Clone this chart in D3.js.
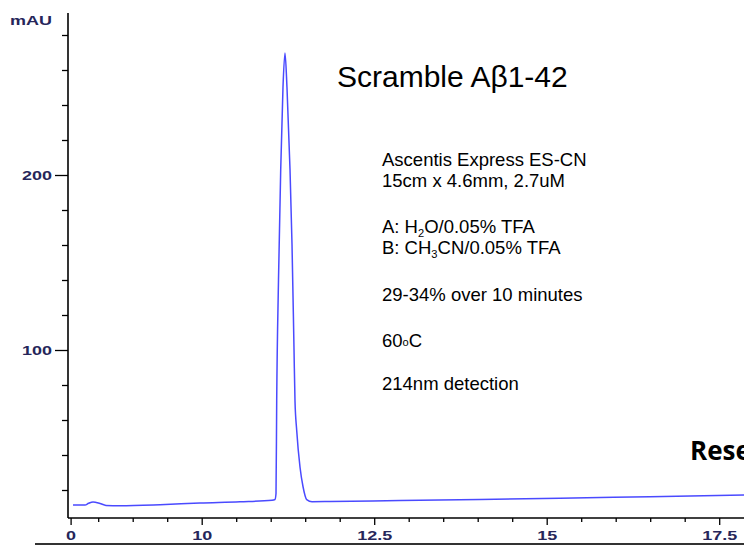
<!DOCTYPE html>
<html><head><meta charset="utf-8">
<script src="https://cdn.jsdelivr.net/npm/d3@7"></script>
<style>html,body{margin:0;padding:0;background:#fff;overflow:hidden}</style>
</head><body>
<svg id="c" width="744" height="545"></svg>
<script>
// ---- data (retention time in min, absorbance in mAU) ----
const times  = [8.135, 8.309, 8.36, 8.425, 8.526, 8.613, 8.816, 9.396, 9.975, 10.555, 11.019, 11.062, 11.077, 11.087, 11.113, 11.145, 11.178, 11.207, 11.236, 11.280, 11.309, 11.338, 11.352, 11.377, 11.425, 11.468, 11.522, 11.599, 11.859, 12.874, 14.033, 15.193, 16.497, 17.86];
const signal = [11.4, 11.4, 12.4, 13.2, 12.3, 11.2, 11.0, 11.6, 12.6, 13.3, 14.2, 14.6, 18, 71, 140, 203, 250, 269.7, 250, 203, 160, 100, 71, 54, 33, 22, 14.5, 13.3, 13.4, 14.0, 14.6, 15.3, 16.2, 17.1];

const xMajorTicks = [8.1, 10, 12.5, 15, 17.5];
const xMajorLabels = ["0", "10", "12.5", "15", "17.5"];
const xMinorTicks = [8.5, 9, 9.5, 10.5, 11, 11.5, 12, 13, 13.5, 14, 14.5, 15.5, 16, 16.5, 17];
const yMajorTicks = [100, 200];
const yMinorTicks = [20, 40, 60, 80, 120, 140, 160, 180, 220, 240, 260, 280];
const yUnit = "mAU";
const title = "Scramble Aβ1-42";
const sideNote = "Research";

const svg = d3.select("#c");
const x = d3.scaleLinear().domain([10 - 133.7 / 69, 10 + 542.3 / 69]).range([68, 744]);
const y = d3.scaleLinear().domain([0, 300]).range([525, 0]);

const labelColor = "#26265a";
const stretch = 1.5;
const font = "Liberation Sans, Arial, sans-serif";

// y axis
const gy = svg.append("g").attr("transform", "translate(68,0)");
gy.append("line").attr("x1", 0).attr("x2", 0).attr("y1", 13).attr("y2", 518)
  .attr("stroke", "#000").attr("stroke-width", 1.6);
gy.append("g").call(d3.axisLeft(y).tickValues(yMinorTicks).tickSize(6).tickFormat(""))
  .call(g => g.select(".domain").remove())
  .call(g => g.selectAll("line").attr("stroke", "#000").attr("stroke-width", 1.3));
gy.append("g").call(d3.axisLeft(y).tickValues(yMajorTicks).tickSize(13))
  .call(g => g.select(".domain").remove())
  .call(g => g.selectAll("line").attr("stroke", "#000").attr("stroke-width", 1.3))
  .call(g => g.selectAll("text")
    .attr("x", null).attr("dy", "0.36em")
    .attr("transform", `translate(-16,0) scale(${stretch},1)`)
    .attr("fill", labelColor).attr("font-family", font)
    .attr("font-weight", "bold").attr("font-size", 12).attr("text-anchor", "end"));

svg.append("text").text(yUnit)
  .attr("transform", `translate(10,25) scale(${stretch},1)`)
  .attr("fill", labelColor).attr("font-family", font)
  .attr("font-weight", "bold").attr("font-size", 12);

// x axis
const gx = svg.append("g").attr("transform", "translate(0,518)");
gx.append("line").attr("x1", 68).attr("x2", 744).attr("y1", 0).attr("y2", 0)
  .attr("stroke", "#000").attr("stroke-width", 1.6);
gx.append("g").call(d3.axisBottom(x).tickValues(xMinorTicks).tickSize(4).tickFormat(""))
  .call(g => g.select(".domain").remove())
  .call(g => g.selectAll("line").attr("stroke", "#000").attr("stroke-width", 1.3));
gx.append("g").call(d3.axisBottom(x).tickValues(xMajorTicks).tickSize(7)
    .tickFormat((d, i) => xMajorLabels[i]))
  .call(g => g.select(".domain").remove())
  .call(g => g.selectAll("line").attr("stroke", "#000").attr("stroke-width", 1.3))
  .call(g => g.selectAll("text")
    .attr("y", null).attr("dy", null)
    .attr("transform", `translate(0,22) scale(${stretch},1)`)
    .attr("fill", labelColor).attr("font-family", font)
    .attr("font-weight", "bold").attr("font-size", 12).attr("text-anchor", "middle"));

// bottom rule
svg.append("line").attr("x1", 35).attr("x2", 744).attr("y1", 544).attr("y2", 544)
  .attr("stroke", "#333").attr("stroke-width", 2);

// trace
const pts = times.map((t, i) => [t, signal[i]]);
svg.append("path").datum(pts)
  .attr("fill", "none").attr("stroke", "#4a4aff").attr("stroke-width", 1.5)
  .attr("d", d3.line().x(d => x(d[0])).y(d => y(d[1])).curve(d3.curveMonotoneX));

// annotations
svg.append("text").text(title).attr("x", 337).attr("y", 87)
  .attr("font-family", font).attr("font-size", 30).attr("fill", "#000");

const fs = 18.5;
const tx = 382;
function line(yy) {
  return svg.append("text").attr("x", tx).attr("y", yy)
    .attr("font-family", font).attr("font-size", fs).attr("fill", "#000");
}
line(166).text("Ascentis Express ES-CN");
line(186.5).text("15cm x 4.6mm, 2.7uM");
const lA = line(232.5);
lA.append("tspan").text("A: H");
lA.append("tspan").text("2").attr("font-size", fs * 0.6).attr("dy", 4);
lA.append("tspan").text("O/0.05% TFA").attr("dy", -4);
const lB = line(253.5);
lB.append("tspan").text("B: CH");
lB.append("tspan").text("3").attr("font-size", fs * 0.6).attr("dy", 4);
lB.append("tspan").text("CN/0.05% TFA").attr("dy", -4);
line(300.5).text("29-34% over 10 minutes");
const lT = line(346.5);
lT.append("tspan").text("60");
lT.append("tspan").text("o").attr("font-size", fs * 0.6).attr("dy", -1);
lT.append("tspan").text("C").attr("dy", 1);
line(390).text("214nm detection");

svg.append("text").text(sideNote).attr("x", 690).attr("y", 460)
  .attr("font-family", "Open Sans, sans-serif").attr("font-weight", "bold")
  .attr("font-size", 26).attr("fill", "#000");
</script>
</body></html>
